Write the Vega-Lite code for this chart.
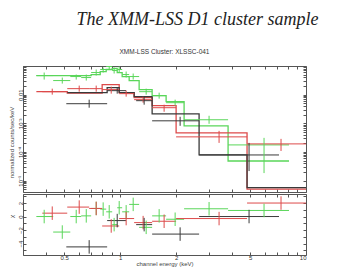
{
  "$schema": "https://vega.github.io/schema/vega-lite/v6.json",
  "padding": {"left": 6, "top": 10, "right": 5, "bottom": 3},
  "background": "white",
  "title": {"text": "The XMM-LSS D1 cluster sample", "font": "Liberation Serif", "fontStyle": "italic", "fontWeight": "normal", "fontSize": 18, "color": "#222", "anchor": "start", "dx": 70, "offset": 20},
  "datasets": {
    "pts": [
      {"s":"pn","e":0.390,"elo":0.354,"ehi":0.436,"v":0.0464,"vlo":0.0336,"vhi":0.0591,"chi":0,"clo":-1,"chh":1},
      {"s":"pn","e":0.488,"elo":0.436,"ehi":0.539,"v":0.0310,"vlo":0.0243,"vhi":0.0395,"chi":-2.3,"clo":-3.3,"chh":-1.3},
      {"s":"pn","e":0.580,"elo":0.539,"ehi":0.617,"v":0.0428,"vlo":0.0336,"vhi":0.0503,"chi":0,"clo":-1,"chh":1},
      {"s":"pn","e":0.657,"elo":0.617,"ehi":0.698,"v":0.0395,"vlo":0.0310,"vhi":0.0503,"chi":0.1,"clo":-0.9,"chh":1.1},
      {"s":"pn","e":0.743,"elo":0.698,"ehi":0.781,"v":0.0591,"vlo":0.0464,"vhi":0.0754,"chi":1.2,"clo":0.2,"chh":2.2},
      {"s":"pn","e":0.810,"elo":0.781,"ehi":0.841,"v":0.0754,"vlo":0.0591,"vhi":0.0886,"chi":1.1,"clo":0.1,"chh":2.1},
      {"s":"pn","e":0.873,"elo":0.841,"ehi":0.906,"v":0.0961,"vlo":0.0754,"vhi":0.099,"chi":0.7,"clo":-0.3,"chh":1.7},
      {"s":"pn","e":0.928,"elo":0.906,"ehi":0.964,"v":0.0695,"vlo":0.0546,"vhi":0.0886,"chi":-1.2,"clo":-2.2,"chh":-0.2},
      {"s":"pn","e":0.988,"elo":0.964,"ehi":1.025,"v":0.0754,"vlo":0.0591,"vhi":0.0961,"chi":1.3,"clo":0.3,"chh":2.3},
      {"s":"pn","e":1.077,"elo":1.025,"ehi":1.118,"v":0.0503,"vlo":0.0395,"vhi":0.0641,"chi":0.7,"clo":-0.3,"chh":1.7},
      {"s":"pn","e":1.175,"elo":1.118,"ehi":1.265,"v":0.0428,"vlo":0.0336,"vhi":0.0546,"chi":1.8,"clo":0.8,"chh":2.8},
      {"s":"pn","e":1.380,"elo":1.265,"ehi":1.486,"v":0.0127,"vlo":0.0100,"vhi":0.0162,"chi":-1.6,"clo":-2.6,"chh":-0.6},
      {"s":"pn","e":1.621,"elo":1.486,"ehi":1.767,"v":0.00922,"vlo":0.00724,"vhi":0.01175,"chi":0.1,"clo":-0.9,"chh":1.1},
      {"s":"pn","e":1.976,"elo":1.767,"ehi":2.208,"v":0.00524,"vlo":0.00411,"vhi":0.00668,"chi":-0.4,"clo":-1.4,"chh":0.6},
      {"s":"pn","e":3.009,"elo":2.208,"ehi":3.808,"v":0.00133,"vlo":0.00096,"vhi":0.00183,"chi":1.15,"clo":0.15,"chh":2.15},
      {"s":"pn","e":5.946,"elo":3.808,"ehi":8.102,"v":0.000176,"vlo":0.0000183,"vhi":0.000310,"chi":0.9,"clo":-0.1,"chh":1.9},
      {"s":"MOS2","e":0.431,"elo":0.381,"ehi":0.519,"v":0.0127,"vlo":0.0100,"vhi":0.0162,"chi":0.5,"clo":-0.5,"chh":1.5},
      {"s":"MOS2","e":0.602,"elo":0.519,"ehi":0.681,"v":0.0162,"vlo":0.0127,"vhi":0.0207,"chi":1.4,"clo":0.4,"chh":2.4},
      {"s":"MOS2","e":0.743,"elo":0.681,"ehi":0.800,"v":0.0162,"vlo":0.0127,"vhi":0.0207,"chi":1.2,"clo":0.2,"chh":2.2},
      {"s":"MOS2","e":0.895,"elo":0.800,"ehi":0.988,"v":0.0150,"vlo":0.01084,"vhi":0.0191,"chi":-1.4,"clo":-2.4,"chh":-0.4},
      {"s":"MOS2","e":1.077,"elo":0.988,"ehi":1.189,"v":0.01084,"vlo":0.00851,"vhi":0.0138,"chi":-0.3,"clo":-1.3,"chh":0.7},
      {"s":"MOS2","e":1.329,"elo":1.189,"ehi":1.486,"v":0.00668,"vlo":0.00524,"vhi":0.00851,"chi":-0.9,"clo":-1.9,"chh":0.1},
      {"s":"MOS2","e":1.724,"elo":1.486,"ehi":2.000,"v":0.0035,"vlo":0.00253,"vhi":0.00446,"chi":-0.7,"clo":-1.7,"chh":0.3},
      {"s":"MOS2","e":3.406,"elo":2.000,"ehi":4.817,"v":0.000336,"vlo":0.000207,"vhi":0.000545,"chi":-0.3,"clo":-1.3,"chh":0.7},
      {"s":"MOS2","e":7.338,"elo":4.817,"ehi":10.0,"v":0.000191,"vlo":0.000108,"vhi":0.000286,"chi":2.0,"clo":1.0,"chh":3.0},
      {"s":"MOS1","e":0.681,"elo":0.513,"ehi":0.851,"v":0.00483,"vlo":0.0035,"vhi":0.00668,"chi":-4.5,"clo":-5.5,"chh":-3.5},
      {"s":"MOS1","e":0.964,"elo":0.851,"ehi":1.077,"v":0.0138,"vlo":0.01084,"vhi":0.0176,"chi":-0.6,"clo":-1.6,"chh":0.4},
      {"s":"MOS1","e":1.346,"elo":1.219,"ehi":1.486,"v":0.00616,"vlo":0.00446,"vhi":0.00851,"chi":-1.2,"clo":-2.2,"chh":-0.2},
      {"s":"MOS1","e":2.102,"elo":1.486,"ehi":2.659,"v":0.00122,"vlo":0.000817,"vhi":0.00169,"chi":-2.6,"clo":-3.6,"chh":-1.6},
      {"s":"MOS1","e":4.938,"elo":2.659,"ehi":7.158,"v":0.0000785,"vlo":0.0000215,"vhi":0.000207,"chi":0.0,"clo":-1,"chh":1}
    ],
    "model": [
      {"s":"pn","e":0.354,"m":0.0464},{"s":"pn","e":0.698,"m":0.0503},{"s":"pn","e":0.781,"m":0.0641},{"s":"pn","e":0.841,"m":0.0754},
      {"s":"pn","e":0.906,"m":0.0818},{"s":"pn","e":0.964,"m":0.0591},{"s":"pn","e":1.025,"m":0.0428},{"s":"pn","e":1.118,"m":0.0310},
      {"s":"pn","e":1.265,"m":0.0150},{"s":"pn","e":1.486,"m":0.00922},{"s":"pn","e":1.767,"m":0.00568},{"s":"pn","e":2.208,"m":0.000817},
      {"s":"pn","e":3.808,"m":0.0000483},{"s":"pn","e":8.102,"m":0.0000483},
      {"s":"MOS2","e":0.354,"m":0.0127},{"s":"MOS2","e":0.519,"m":0.01129},{"s":"MOS2","e":0.800,"m":0.0224},{"s":"MOS2","e":0.988,"m":0.01175},
      {"s":"MOS2","e":1.189,"m":0.00785},{"s":"MOS2","e":1.486,"m":0.00411},{"s":"MOS2","e":2.000,"m":0.000464},{"s":"MOS2","e":4.817,"m":0.00000503},
      {"s":"MOS2","e":10.0,"m":0.00000503},
      {"s":"MOS1","e":0.519,"m":0.01175},{"s":"MOS1","e":0.851,"m":0.0176},{"s":"MOS1","e":0.988,"m":0.01175},{"s":"MOS1","e":1.189,"m":0.00851},
      {"s":"MOS1","e":1.486,"m":0.00215},{"s":"MOS1","e":2.659,"m":0.0000785},{"s":"MOS1","e":4.817,"m":0.00000568},{"s":"MOS1","e":10.0,"m":0.00000568}
    ]
  },
  "spacing": 0,
  "vconcat": [
    {
      "width": 283, "height": 126,
      "title": {"text": "XMM-LSS Cluster: XLSSC-041", "font": "Liberation Sans", "fontSize": 6.5, "fontWeight": "normal", "color": "#333", "anchor": "middle", "offset": 8},
      "layer": [
        {
          "data": {"name": "model"},
          "mark": {"type": "line", "interpolate": "step-after", "strokeWidth": 1.3, "clip": true},
          "encoding": {
            "x": {"field": "e", "type": "quantitative", "scale": {"type": "log", "domain": [0.3, 10], "nice": false},
                  "axis": {"orient": "bottom", "values": [0.3,0.4,0.5,0.6,0.7,0.8,0.9,1,2,3,4,5,6,7,8,9,10], "labels": false, "title": null, "tickSize": -3}},
            "y": {"field": "m", "type": "quantitative", "scale": {"type": "log", "domain": [0.000004, 0.1], "nice": false},
                  "axis": {"orient": "left", "title": "normalized counts/sec/keV", "titleY": 76, "titlePadding": 3, "labelOverlap": false,
                           "values": [0.000005,0.000006,0.000007,0.000008,0.000009,0.00001,0.00002,0.00003,0.00004,0.00005,0.00006,0.00007,0.00008,0.00009,0.0001,0.0002,0.0003,0.0004,0.0005,0.0006,0.0007,0.0008,0.0009,0.001,0.002,0.003,0.004,0.005,0.006,0.007,0.008,0.009,0.01,0.02,0.03,0.04,0.05,0.06,0.07,0.08,0.09,0.1],
                           "labelExpr": "datum.value == 0.01 ? '0.01' : datum.value == 0.001 ? '10⁻³' : datum.value == 0.0001 ? '10⁻⁴' : datum.value == 0.00001 ? '10⁻⁵' : ''",
                           "labelAngle": -90, "labelAlign": "center", "labelBaseline": "bottom", "labelPadding": 3, "tickSize": -3}},
            "color": {"field": "s", "type": "nominal", "scale": {"domain": ["MOS1", "MOS2", "pn"], "range": ["#3a3a3a", "#dd4a4a", "#5ad65a"]}, "legend": null}
          }
        },
        {
          "data": {"name": "pts"},
          "mark": {"type": "rule", "strokeWidth": 1, "clip": true},
          "encoding": {
            "x": {"field": "elo", "type": "quantitative", "axis": null},
            "x2": {"field": "ehi"},
            "y": {"field": "v", "type": "quantitative", "axis": null},
            "color": {"field": "s", "type": "nominal", "legend": null}
          }
        },
        {
          "data": {"name": "pts"},
          "mark": {"type": "rule", "strokeWidth": 1, "clip": true},
          "encoding": {
            "x": {"field": "e", "type": "quantitative", "axis": null},
            "y": {"field": "vlo", "type": "quantitative", "axis": null},
            "y2": {"field": "vhi"},
            "color": {"field": "s", "type": "nominal", "legend": null}
          }
        },
        {
          "data": {"name": "pts"},
          "mark": {"type": "point", "opacity": 0},
          "encoding": {
            "x": {"field": "e", "type": "quantitative", "axis": {"orient": "top", "values": [0.3,0.4,0.5,0.6,0.7,0.8,0.9,1,2,3,4,5,6,7,8,9,10], "labels": false, "title": null, "tickSize": -3}},
            "y": {"field": "v", "type": "quantitative", "axis": {"orient": "right", "values": [0.00001,0.00002,0.00003,0.00004,0.00005,0.00006,0.00007,0.00008,0.00009,0.0001,0.0002,0.0003,0.0004,0.0005,0.0006,0.0007,0.0008,0.0009,0.001,0.002,0.003,0.004,0.005,0.006,0.007,0.008,0.009,0.01,0.02,0.03,0.04,0.05,0.06,0.07,0.08,0.09], "labels": false, "title": null, "tickSize": -3}}
          }
        }
      ],
      "resolve": {"axis": {"x": "independent", "y": "independent"}}
    },
    {
      "width": 283, "height": 61,
      "layer": [
        {
          "mark": {"type": "rule", "color": "#777", "strokeDash": [4, 3], "strokeWidth": 1},
          "encoding": {
            "y": {"datum": 0, "type": "quantitative", "scale": {"domain": [-5.7, 3.34], "nice": false, "zero": false},
                  "axis": {"orient": "left", "title": "χ", "titleY": 22, "titlePadding": 3, "titleFont": "Liberation Serif", "titleFontSize": 7, "labelOverlap": false,
                           "values": [-5,-4,-3,-2,-1,0,1,2,3], "labelExpr": "datum.value % 2 == 0 ? datum.label : ''",
                           "labelAngle": -90, "labelAlign": "center", "labelBaseline": "bottom", "labelPadding": 3, "tickSize": -3}}
          }
        },
        {
          "data": {"name": "pts"},
          "mark": {"type": "rule", "strokeWidth": 1, "clip": true},
          "encoding": {
            "x": {"field": "elo", "type": "quantitative", "scale": {"type": "log", "domain": [0.3, 10], "nice": false},
                  "axis": {"orient": "bottom", "values": [0.3,0.4,0.5,0.6,0.7,0.8,0.9,1,2,3,4,5,6,7,8,9,10], "format": "~g", "labelOverlap": false,
                           "labelExpr": "indexof([0.5,1,2,5,10], datum.value) >= 0 ? datum.label : ''", "title": "channel energy (keV)", "titlePadding": 0, "labelPadding": 2, "tickSize": -3}},
            "x2": {"field": "ehi"},
            "y": {"field": "chi", "type": "quantitative", "axis": null},
            "color": {"field": "s", "type": "nominal", "scale": {"domain": ["MOS1", "MOS2", "pn"], "range": ["#3a3a3a", "#dd4a4a", "#5ad65a"]}, "legend": null}
          }
        },
        {
          "data": {"name": "pts"},
          "mark": {"type": "rule", "strokeWidth": 1, "clip": true},
          "encoding": {
            "x": {"field": "e", "type": "quantitative", "axis": null},
            "y": {"field": "clo", "type": "quantitative", "axis": null},
            "y2": {"field": "chh"},
            "color": {"field": "s", "type": "nominal", "legend": null}
          }
        },
        {
          "data": {"name": "pts"},
          "mark": {"type": "point", "opacity": 0},
          "encoding": {
            "x": {"field": "e", "type": "quantitative", "axis": {"orient": "top", "values": [0.3,0.4,0.5,0.6,0.7,0.8,0.9,1,2,3,4,5,6,7,8,9,10], "labels": false, "title": null, "tickSize": -3}},
            "y": {"field": "chi", "type": "quantitative", "axis": {"orient": "right", "values": [-5,-4,-3,-2,-1,0,1,2,3], "labels": false, "title": null, "tickSize": -3}}
          }
        }
      ],
      "resolve": {"axis": {"x": "independent", "y": "independent"}}
    }
  ],
  "config": {
    "view": {"stroke": "#555", "strokeWidth": 1},
    "axis": {"labelFont": "Liberation Sans", "labelFontSize": 6, "labelColor": "#333", "titleFont": "Liberation Sans", "titleFontSize": 6, "titleFontWeight": "normal", "titleColor": "#444", "tickColor": "#555", "domain": false, "grid": false, "minExtent": 0}
  }
}
